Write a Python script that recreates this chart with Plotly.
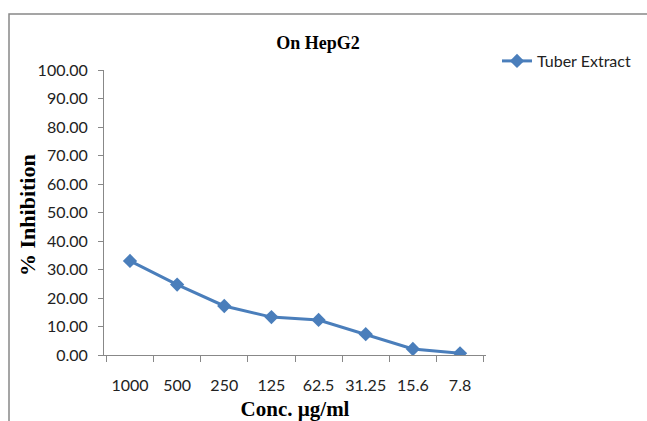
import plotly.graph_objects as go

concentrations = ["1000", "500", "250", "125", "62.5", "31.25", "15.6", "7.8"]
inhibition = [33.0, 24.7, 17.2, 13.3, 12.3, 7.3, 2.1, 0.6]
series_name = "Tuber Extract"

W, H = 647, 421
L, R, T, B = 104, 486, 70, 355
pw, ph = R - L, B - T

def px(x):
    return (x - L) / pw

def py(y):
    return (B - y) / ph

fig = go.Figure()
fig.add_trace(go.Scatter(
    x=concentrations, y=inhibition, mode="lines+markers", name=series_name,
    line=dict(color="#4A7EBB", width=3),
    marker=dict(symbol="diamond", size=11, color="#4A7EBB"),
))

fig.update_layout(
    width=W, height=H,
    margin=dict(l=L, r=W - R, t=T, b=H - B, autoexpand=False),
    paper_bgcolor="white", plot_bgcolor="white",
    showlegend=True,
    title=dict(text="<b>On HepG2</b>", x=318 / W, xanchor="center", y=1 - 43 / H, yanchor="middle",
               font=dict(family="Liberation Serif", size=18, color="black")),
    legend=dict(x=px(497), y=py(61), xanchor="left", yanchor="middle",
                font=dict(family="Lato", size=16, color="#222"),
                bgcolor="rgba(0,0,0,0)", itemwidth=30, tracegroupgap=0),
    xaxis=dict(type="category", showgrid=False, showline=True, linecolor="#888", linewidth=1,
               ticks="outside", tickson="boundaries", ticklen=6, tickcolor="#888",
               ticklabelstandoff=16, tickangle=0, automargin=False,
               tickfont=dict(family="Lato", size=16, color="#222"),
               title=dict(text="<b>Conc. µg/ml</b>", standoff=8,
                          font=dict(family="Liberation Serif", size=21, color="black"))),
    yaxis=dict(range=[0, 100], dtick=10, tickformat=".2f", showgrid=False, showline=True,
               linecolor="#888", linewidth=1, ticks="outside", ticklen=5, tickcolor="#888",
               zeroline=False, automargin=False, ticklabelstandoff=7,
               tickfont=dict(family="Lato", size=16, color="#222")),
    annotations=[dict(text="<b>% Inhibition</b>", xref="paper", yref="paper",
                      x=px(27), y=py(215), xanchor="center", yanchor="middle",
                      textangle=-90, showarrow=False,
                      font=dict(family="Liberation Serif", size=22, color="black"))],
)

fig.add_shape(type="rect", xref="paper", yref="paper",
              x0=px(9), x1=px(700), y0=py(480), y1=py(14),
              line=dict(color="#888", width=1.5), fillcolor="rgba(0,0,0,0)", layer="below")

fig.write_html("out.html")
